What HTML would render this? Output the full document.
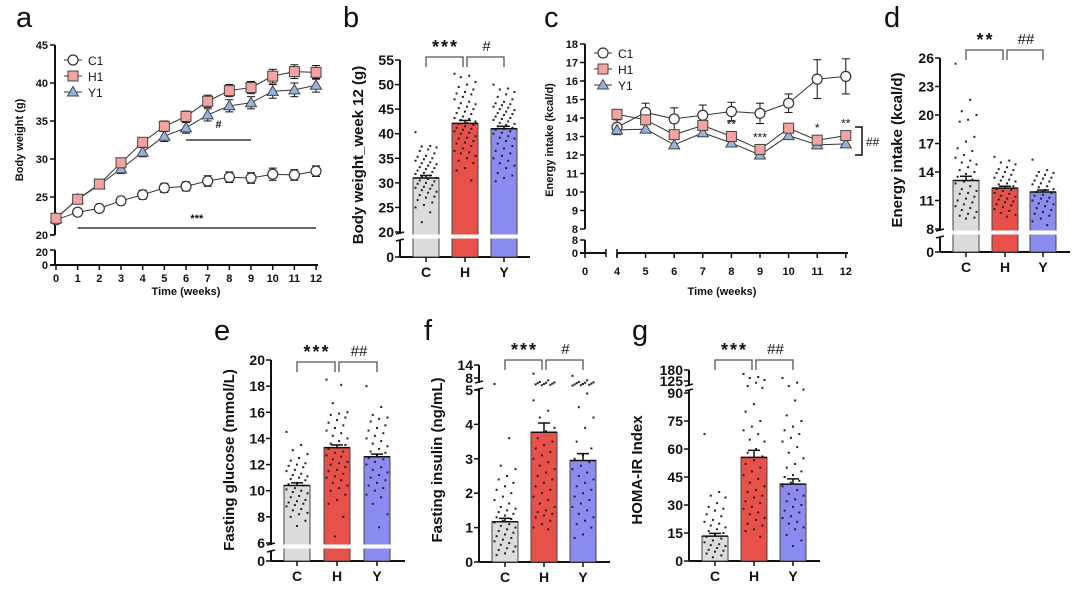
<!DOCTYPE html>
<html><head><meta charset="utf-8"><style>
html,body{margin:0;padding:0;background:#fff;}
svg{display:block;font-family:"Liberation Sans",Arial,sans-serif;}
</style></head><body>
<svg id="fig" width="1080" height="589" viewBox="0 0 1080 589"></svg>
<script>
// ---------- data ----------
const weeksA = [0,1,2,3,4,5,6,7,8,9,10,11,12];
const bwC1 = [22.0,23.0,23.5,24.5,25.3,26.2,26.4,27.1,27.6,27.5,28.0,27.9,28.4];
const bwH1 = [22.2,24.7,26.7,29.5,32.2,34.3,35.6,37.6,39.0,39.4,40.9,41.5,41.4];
const bwY1 = [22.2,24.7,26.6,28.7,30.9,33.0,34.1,35.8,37.0,37.4,38.9,39.1,39.7];
const bwErrC1 = [0.5,0.4,0.4,0.5,0.6,0.6,0.6,0.7,0.7,0.7,0.8,0.7,0.7];
const bwErrH1 = [0.5,0.5,0.5,0.6,0.6,0.7,0.7,0.8,0.8,0.8,0.9,0.9,0.9];
const bwErrY1 = [0.5,0.5,0.5,0.6,0.6,0.7,0.7,0.8,0.8,0.8,0.9,0.9,0.9];
const weeksC = [4,5,6,7,8,9,10,11,12];
const eiC1 = [13.5,14.3,13.95,14.15,14.35,14.25,14.8,16.1,16.25];
const eiH1 = [14.2,13.9,13.1,13.6,13.0,12.3,13.45,12.8,13.05];
const eiY1 = [13.35,13.4,12.55,13.2,12.65,12.0,13.05,12.55,12.6];
const eiErrC1 = [0.4,0.5,0.6,0.55,0.5,0.55,0.5,1.05,0.95];
const eiStars = ['', '', '', '', '**', '***', '', '*', '**'];
const groups = ['C','H','Y'];
const bMeans = [31.0,42.1,41.0]; const bSem = [0.5,0.6,0.5];
const bDotsC = [40.3,37.5,37.4,37.2,36.8,36.5,36,35.5,35.3,35,34.8,34.5,34.2,34,33.8,33.5,33.2,33,32.8,32.5,32.2,32,31.8,31.5,31.2,31,30.8,30.5,30.3,30,29.8,29.5,29.2,29,28.8,28.5,28.2,28,27.5,27.2,27,26.5,26,25.5,25,24,22];
const bDotsH = [52.2,51.8,51.5,50.5,50,49.5,49,48.5,48.2,48,47.5,47,46.5,46.2,46,45.5,45.2,45,44.5,44.2,44,43.5,43.2,43,42.8,42.5,42.2,42,41.8,41.5,41.2,41,40.8,40.5,40.2,40,39.5,39.2,39,38.5,38.2,38,37.5,37,36.5,36.2,36,35.5,35,34.5,34,33,32.5,30.5];
const bDotsY = [50,49.2,49,48.5,48,47.5,47,46.5,46.2,46,45.8,45.5,45.3,45,44.8,44.5,44.2,44,43.8,43.5,43.2,43,42.8,42.5,42.2,42,41.8,41.5,41.2,41,40.8,40.5,40.2,40,39.5,39.2,39,38.5,38,37.5,37,36.5,36,35.5,35,34.5,34,33.5,33,32,31.5,31,30.3];
const dMeans = [13.1,12.3,11.9]; const dSem = [0.45,0.2,0.2];
const dDotsC = [25.4,21.6,20.4,20,19.5,19.3,17.7,17.2,16.5,16.2,15.8,15.5,15.2,15,14.8,14.5,14.2,14,13.8,13.5,13.2,13,12.8,12.5,12.2,12,11.8,11.7,11.4,11.2,11,10.8,10.6,10.4,10.2,10,9.8,9.6,9.4,9.2,9.1];
const dDotsH = [15.6,15.2,15,14.8,14.5,14.3,14.2,14,13.9,13.7,13.5,13.4,13.2,13.1,13,12.8,12.7,12.5,12.4,12.2,12.1,12,11.8,11.7,11.5,11.4,11.2,11.1,10.9,10.8,10.6,10.5,10.3,10.1,9.9,9.7,9.5,9.3];
const dDotsY = [15.3,14.2,14,13.9,13.7,13.6,13.4,13.3,13.1,13,12.8,12.7,12.5,12.4,12.2,12.1,11.9,11.8,11.6,11.5,11.3,11.2,11,10.9,10.7,10.6,10.4,10.2,10,9.8,9.6,9.4,9.1,8.8,8.4];
const eMeans = [10.4,13.3,12.6]; const eSem = [0.2,0.2,0.2];
const eDotsC = [14.5,13.5,13.1,12.8,12.5,12.3,12.1,12,11.9,11.8,11.6,11.5,11.3,11.2,11.1,11,10.9,10.8,10.6,10.5,10.4,10.2,10.1,10,9.9,9.8,9.6,9.5,9.3,9.2,9.1,9,8.9,8.8,8.6,8.5,8.3,8.2,8,7.7,7.3];
const eDotsH = [18.5,18.1,16.7,16,15.9,15.8,15.6,15.4,15.2,15,14.8,14.6,14.4,14.2,14,13.8,13.6,13.5,13.3,13.2,13,12.9,12.7,12.6,12.4,12.2,12.1,12,11.8,11.6,11.5,11.3,11.1,11,10.8,10.6,10.4,10.2,10,9.7,9.3,9,8,6.5];
const eDotsY = [18,16.4,15.8,15.6,15.5,15.3,15,14.8,14.6,14.4,14.2,14,13.8,13.6,13.4,13.2,13,12.9,12.7,12.5,12.4,12.2,12,11.8,11.6,11.4,11.2,11,10.8,10.6,10.4,10.2,10,9.7,9.5,9,8.2,7.2];
const fMeans = [1.17,3.77,2.95]; const fSem = [0.1,0.27,0.2];
const fDotsC = [6.5,3.6,2.8,2.7,2.5,2.4,2.3,2.2,2.1,2,1.9,1.8,1.7,1.6,1.55,1.5,1.45,1.4,1.35,1.3,1.25,1.2,1.15,1.1,1.05,1,0.95,0.9,0.85,0.8,0.75,0.7,0.65,0.6,0.55,0.5,0.45,0.4,0.35,0.3,0.25,0.2];
const fDotsH = [10,7.4,7,6.9,6.8,6.7,6.6,6.5,6.4,6.3,6.2,4.7,4.4,4.2,3.9,3.8,3.6,3.5,3.4,3.3,3.2,3.1,3,2.9,2.8,2.7,2.6,2.5,2.4,2.3,2.2,2.1,2,1.9,1.8,1.7,1.6,1.5,1.45,1.4,1.35,1.3,1.2,1.1,1,0.95];
const fDotsY = [9,7.4,7,6.9,6.8,6.7,6.6,6.5,6.4,6.3,6.2,6.1,4.9,4.5,4.2,3.9,3.5,3.3,3.1,3,2.9,2.8,2.7,2.6,2.5,2.4,2.3,2.2,2.1,2,1.9,1.8,1.7,1.6,1.5,1.4,1.3,1.2,1.1,1,0.8,0.7];
const gMeans = [13.3,55.5,41.2]; const gSem = [1.5,3.8,2.8];
const gDotsC = [68,37,35,34,31,29,28,27,25,24,22,21,20,19,18,17,16,15,14,13,12,11,10,9,8.5,8,7,6,5.5,5,4,3,2];
const gDotsH = [160,145,140,130,120,110,105,84,80,75,72,70,68,65,64,60,58,56,54,52,50,48,46,44,42,40,38,37,35,34,32,31,29,28,26,25,23,22,20,19,17,16,13];
const gDotsY = [140,120,110,100,86,78,75,72,70,68,66,64,61,58,55,52,50,48,46,45,43,42,40,38,36,35,33,32,30,29,27,26,24,23,21,20,18,17,14,11,8];

// ---------- helpers ----------
const svg = document.getElementById('fig');
const NS = 'http://www.w3.org/2000/svg';
function mk(tag, attrs, name, parent){
  const e = document.createElementNS(NS, tag);
  for (const k in attrs) e.setAttribute(k, attrs[k]);
  
  
  (parent || svg).appendChild(e);
  return e;
}
function txt(x, y, str, size, name, opts){
  opts = opts || {};
  const t = mk('text', {x:x, y:y, 'font-size':size, 'font-weight':opts.w||'bold', 'text-anchor':opts.a||'middle', fill:'#111'}, name);
  if (opts.rot) t.setAttribute('transform', 'rotate(-90 '+x+' '+y+')');
  t.textContent = str;
  return t;
}
function line(x1,y1,x2,y2,name,w,c){ return mk('line',{x1:x1,y1:y1,x2:x2,y2:y2,stroke:c||'#111','stroke-width':w||1.5},name); }
function piece(segs){ return v => { for (const s of segs){ if (v>=s[0] && v<=s[1]) return s[2]+(v-s[0])*(s[3]-s[2])/(s[1]-s[0]); } const l=segs[segs.length-1]; return l[3]; }; }
const FILLS = ['#dcdcdc','#e8504a','#8c8cf0'];

// ---------- bar panel ----------
function barPanel(p){
  const y = p.scale;
  line(p.ax, p.yTop, p.ax, p.gap[0], p.id+'-y-axis-upper', 2);
  line(p.ax, p.gap[1], p.ax, p.zero, p.id+'-y-axis-lower', 2);
  line(p.ax-4, p.gap[0], p.ax+4, p.gap[0]-2, p.id+'-break-mark', 1.5);
  line(p.ax-4, p.gap[1]+1, p.ax+4, p.gap[1]-1, p.id+'-break-mark', 1.5);
  line(p.ax, p.zero, p.xEnd, p.zero, p.id+'-x-axis', 2);
  p.ticks.forEach((v,i) => {
    const yy = (p.tickY && p.tickY[i]!=null) ? p.tickY[i] : y(v);
    line(p.ax-5, yy, p.ax, yy, p.id+'-y-tick', 1.5);
    txt(p.ax-6, yy+5, String(v), p.fs, p.id+'-y-tick-label', {a:'end'});
  });
  p.centers.forEach((cx,i) => {
    const top = y(p.means[i]);
    mk('rect',{x:cx-13,y:top,width:26,height:p.zero-top,fill:FILLS[i],stroke:'#444','stroke-width':1}, p.id+'-bar-'+groups[i]);
    const dots = p.dots[i];
    dots.forEach((v,j) => {
      const off = (((j*7)%11)-5)/5*10.5;
      mk('rect',{x:cx+off-1,y:y(v)-1,width:2,height:2,fill:'#222'}, p.id+'-dot');
    });
    const ey = y(p.means[i]+p.sem[i]);
    line(cx, top, cx, ey, p.id+'-sem-'+groups[i], 1.5);
    line(cx-6, ey, cx+6, ey, p.id+'-sem-cap', 1.5);
    line(cx-13, top, cx+13, top, p.id+'-bar-top', 1.5);
    line(cx, p.zero, cx, p.zero+5, p.id+'-x-tick', 1.5);
    txt(cx, p.zero+20, groups[i], 14, p.id+'-x-label-'+groups[i]);
  });
  if (p.band) mk('rect',{x:p.ax+3,y:p.band[0],width:p.xEnd-p.ax-3,height:p.band[1]-p.band[0],fill:'#fff'}, p.id+'-axis-break-band');
  const c = p.centers, bt = p.br;
  mk('polyline',{points:`${c[0]},${bt+10} ${c[0]},${bt} ${c[1]-2},${bt} ${c[1]-2},${bt+10}`,fill:'none',stroke:'#555','stroke-width':1.3}, p.id+'-bracket-CH');
  mk('polyline',{points:`${c[1]+2},${bt+10} ${c[1]+2},${bt} ${c[2]},${bt} ${c[2]},${bt+10}`,fill:'none',stroke:'#555','stroke-width':1.3}, p.id+'-bracket-HY');
  const s1 = txt((c[0]+c[1])/2, bt-4, p.s1, 18, p.id+'-sig-CH');
  s1.setAttribute('letter-spacing','2');
  txt((c[1]+c[2])/2+2, bt-6, p.s2, 15, p.id+'-sig-HY', {w:'normal'});
  txt(p.title[0], p.title[1], p.title[2], 15, p.id+'-y-axis-title', {rot:true});
  txt(p.label[0], p.label[1], p.id, 29, 'panel-label-'+p.id, {w:'normal', a:'start'});
}

barPanel({id:'b', ax:400, yTop:60, zero:257, gap:[234,240], band:[234.5,238.5], xEnd:530,
  scale: piece([[20,55,232,60],[0,20,257,252]]), ticks:[0,20,25,30,35,40,45,50,55], tickY:[257,null], fs:14,
  centers:[426,465,504], means:bMeans, sem:bSem, dots:[bDotsC,bDotsH,bDotsY], br:57, s1:'***', s2:'#',
  title:[363,155,'Body weight_week 12 (g)'], label:[343,27]});
barPanel({id:'d', ax:940, yTop:58, zero:252, gap:[231,237], band:[230.5,234.5], xEnd:1070,
  scale: piece([[8,26,229,58],[0,8,252,247]]), ticks:[0,8,11,14,17,20,23,26], tickY:[252,null], fs:14,
  centers:[966,1005,1043], means:dMeans, sem:dSem, dots:[dDotsC,dDotsH,dDotsY], br:50, s1:'**', s2:'##',
  title:[902,150,'Energy intake (kcal/d)'], label:[884,27]});
barPanel({id:'e', ax:271, yTop:360, zero:561, gap:[545,551], band:[544.5,548.5], xEnd:405,
  scale: piece([[6,20,543,360],[0,6,561,556]]), ticks:[0,6,8,10,12,14,16,18,20], tickY:[561,null], fs:14,
  centers:[297,337,377], means:eMeans, sem:eSem, dots:[eDotsC,eDotsH,eDotsY], br:362, s1:'***', s2:'##',
  title:[234,460,'Fasting glucose (mmol/L)'], label:[214,340]});
barPanel({id:'f', ax:479, yTop:365, zero:562, gap:[383,389], band:null, xEnd:610,
  scale: piece([[0,5,562,390],[5,8,390,378],[8,14,378,365]]), ticks:[0,1,2,3,4,5,8,14], tickY:[], fs:14,
  centers:[505,544,583], means:fMeans, sem:fSem, dots:[fDotsC,fDotsH,fDotsY], br:360, s1:'***', s2:'#',
  title:[442,460,'Fasting insulin (ng/mL)'], label:[424,340]});
barPanel({id:'g', ax:689, yTop:370, zero:561, gap:[386,390], band:null, xEnd:820,
  scale: piece([[0,90,561,393],[90,125,393,381],[125,180,381,370]]), ticks:[0,15,30,45,60,75,90,125,180], tickY:[], fs:14,
  centers:[715,754,793], means:gMeans, sem:gSem, dots:[gDotsC,gDotsH,gDotsY], br:360, s1:'***', s2:'##',
  title:[642,470,'HOMA-IR Index'], label:[632,340]});

// ---------- line panels ----------
function marker(kind, x, y, name){
  if (kind==='c') mk('circle',{cx:x,cy:y,r:5,fill:'#fff',stroke:'#333','stroke-width':1.2}, name);
  else if (kind==='s') mk('rect',{x:x-5,y:y-5,width:10,height:10,fill:'#f4a3a0',stroke:'#444','stroke-width':1}, name);
  else mk('polygon',{points:`${x},${y-5.5} ${x+5.5},${y+4} ${x-5.5},${y+4}`,fill:'#94b4e0',stroke:'#444','stroke-width':1}, name);
}
function series(xs, vals, errs, xf, yf, kind, name){
  mk('polyline',{points:xs.map((t,i)=>xf(t)+','+yf(vals[i])).join(' '),fill:'none',stroke:'#333','stroke-width':1}, name+'-line');
  xs.forEach((t,i)=>{
    if (errs){
      const x=xf(t), e1=yf(vals[i]+errs[i]), e2=yf(vals[i]-errs[i]);
      line(x,e1,x,e2,name+'-error-bar',1); line(x-4,e1,x+4,e1,name+'-error-cap',1); line(x-4,e2,x+4,e2,name+'-error-cap',1);
    }
  });
  xs.forEach((t,i)=>marker(kind, xf(t), yf(vals[i]), name+'-point'));
}
function legend(x, y0, name){
  [['c','C1'],['s','H1'],['t','Y1']].forEach((r,i)=>{
    const y=y0+i*16;
    line(x-9,y,x+9,y,name+'-legend-line',1,'#333');
    marker(r[0], x, y, name+'-legend-marker');
    txt(x+15, y+5, r[1], 12, name+'-legend-entry-'+r[1], {w:'normal', a:'start'});
  });
}
// panel a
(function(){
  const xa = t => 56 + t*21.67, ya = v => 235 - (v-20)*7.6;
  line(55,45,55,235,'a-y-axis-upper',2); line(55,250,55,265,'a-y-axis-lower',2);
  line(50,235,55,235,'a-y-tick',1.5); line(50,250,55,250,'a-y-tick',1.5);
  [20,25,30,35,40,45].forEach(v=>{ line(50,ya(v),55,ya(v),'a-y-tick',1.5); txt(48,ya(v)+4,String(v),11,'a-y-tick-label',{a:'end'}); });
  txt(48,256,'20',11,'a-y-tick-label',{a:'end'}); txt(48,269,'0',11,'a-y-tick-label',{a:'end'});
  line(50,265,318,265,'a-x-axis',2);
  weeksA.forEach(t=>{ line(xa(t),265,xa(t),270,'a-x-tick',1.5); txt(xa(t),282,String(t),11,'a-x-tick-label'); });
  txt(186,295,'Time (weeks)',11,'a-x-axis-title');
  txt(23,140,'Body weight (g)',11,'a-y-axis-title',{rot:true});
  series(weeksA,bwC1,bwErrC1,xa,ya,'c','a-series-C1');
  series(weeksA,bwY1,bwErrY1,xa,ya,'t','a-series-Y1');
  series(weeksA,bwH1,bwErrH1,xa,ya,'s','a-series-H1');
  line(xa(6),140,xa(9),140,'a-sig-line-hash',1.2); txt(xa(7.5),128,'#',11,'a-sig-hash');
  line(xa(1),228,xa(12),228,'a-sig-line-stars',1.2); txt(xa(6.5),222,'***',11,'a-sig-stars');
  legend(73,60,'a');
  txt(16,27,'a',29,'panel-label-a',{w:'normal',a:'start'});
})();
// panel c
(function(){
  const xc = t => 617 + (t-4)*28.6, yc = v => 229 - (v-8)*18.5;
  line(585,44,585,229,'c-y-axis-upper',2); line(585,240,585,253,'c-y-axis-lower',2);
  [8,9,10,11,12,13,14,15,16,17,18].forEach(v=>{ line(580,yc(v),585,yc(v),'c-y-tick',1.5); txt(578,yc(v)+4,String(v),11,'c-y-tick-label',{a:'end'}); });
  line(580,240,585,240,'c-y-tick',1.5);
  txt(578,244,'8',11,'c-y-tick-label',{a:'end'}); txt(578,257,'0',11,'c-y-tick-label',{a:'end'});
  line(580,253,606,253,'c-x-axis-left',2); line(617,253,848,253,'c-x-axis-right',2);
  line(606,249,606,257,'c-x-break',1.5); line(617,249,617,257,'c-x-break',1.5);
  line(585,253,585,258,'c-x-tick',1.5); txt(585,275,'0',11,'c-x-tick-label');
  [4,5,6,7,8,9,10,11,12].forEach(t=>{ line(xc(t),253,xc(t),258,'c-x-tick',1.5); txt(xc(t),275,String(t),11,'c-x-tick-label'); });
  txt(722,295,'Time (weeks)',11,'c-x-axis-title');
  txt(553,140,'Energy intake (kcal/d)',11,'c-y-axis-title',{rot:true});
  series(weeksC,eiC1,eiErrC1,xc,yc,'c','c-series-C1');
  series(weeksC,eiY1,null,xc,yc,'t','c-series-Y1');
  series(weeksC,eiH1,null,xc,yc,'s','c-series-H1');
  weeksC.forEach((t,i)=>{ if(eiStars[i]) txt(xc(t), yc(eiH1[i])-8, eiStars[i], 12, 'c-sig-stars-week-'+t, {w:'normal'}); });
  mk('polyline',{points:'855,127 862,127 862,155 855,155',fill:'none',stroke:'#111','stroke-width':1.5},'c-bracket-hash');
  txt(866,146,'##',12,'c-sig-hash',{w:'normal',a:'start'});
  legend(603,53,'c');
  txt(544,27,'c',29,'panel-label-c',{w:'normal',a:'start'});
})();
</script>
</body></html>
